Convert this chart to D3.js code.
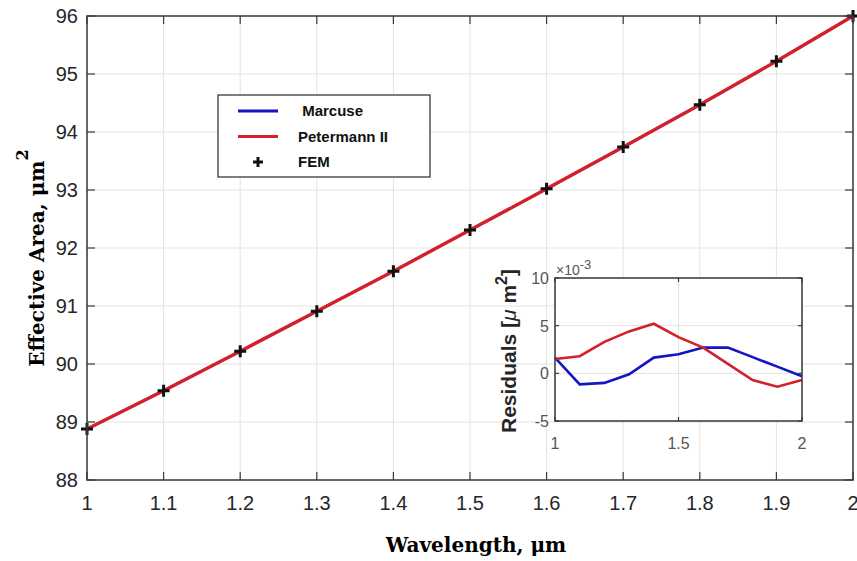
<!DOCTYPE html>
<html>
<head>
<meta charset="utf-8">
<script src="https://cdn.jsdelivr.net/npm/d3@7"></script>
<style>
  body { margin: 0; background: #fff; }
  svg { display: block; }
</style>
</head>
<body>
<div id="wrapper"></div>
<script>
// wavelengths (um) and effective area (um^2)
const wavelengths = [1.0, 1.1, 1.2, 1.3, 1.4, 1.5, 1.6, 1.7, 1.8, 1.9, 2.0];
const femArea = [88.88, 89.54, 90.22, 90.91, 91.60, 92.31, 93.02, 93.74, 94.47, 95.22, 96.00];
const marcuseArea = [88.88, 89.54, 90.22, 90.91, 91.60, 92.31, 93.02, 93.74, 94.47, 95.22, 96.00];
const petermannArea = [88.88, 89.54, 90.22, 90.91, 91.60, 92.31, 93.02, 93.74, 94.47, 95.22, 96.00];
// residuals, x1e-3 um^2
const marcuseResid = [1.65, -1.15, -1.0, -0.1, 1.65, 2.0, 2.7, 2.7, 1.7, 0.7, -0.3];
const petermannResid = [1.5, 1.8, 3.3, 4.4, 5.2, 3.8, 2.7, 1.0, -0.7, -1.4, -0.7];

const xTicks = [1, 1.1, 1.2, 1.3, 1.4, 1.5, 1.6, 1.7, 1.8, 1.9, 2];
const yTicks = [88, 89, 90, 91, 92, 93, 94, 95, 96];
const insetXTicks = [1, 1.5, 2];
const insetYTicks = [-5, 0, 5, 10];

const BLUE = "#1414c4";
const RED = "#d3202a";
const FRAME = "#3a3a3a";
const GRID = "#e3e3e3";

const width = 857, height = 561;
const svg = d3.select("#wrapper").append("svg")
  .attr("width", width).attr("height", height);

// main plot
const plot = { left: 87, right: 853, top: 16, bottom: 480 };
const xScale = d3.scaleLinear().domain([1, 2]).range([plot.left, plot.right]);
const yScale = d3.scaleLinear().domain([88, 96]).range([plot.bottom, plot.top]);

function drawGrid(g, xs, ys, xt, yt) {
  g.selectAll(".vg").data(xt).join("line")
    .attr("x1", d => xs(d)).attr("x2", d => xs(d))
    .attr("y1", ys.range()[0]).attr("y2", ys.range()[1])
    .attr("stroke", GRID).attr("stroke-width", 1);
  g.selectAll(".hg").data(yt).join("line")
    .attr("y1", d => ys(d)).attr("y2", d => ys(d))
    .attr("x1", xs.range()[0]).attr("x2", xs.range()[1])
    .attr("stroke", GRID).attr("stroke-width", 1);
}

// matlab style box with inward ticks
function drawFrame(g, xs, ys, xt, yt, tickLen) {
  const [x0, x1] = xs.range();
  const [y0, y1] = ys.range();
  g.append("rect")
    .attr("x", x0).attr("y", y1)
    .attr("width", x1 - x0).attr("height", y0 - y1)
    .attr("fill", "none").attr("stroke", FRAME).attr("stroke-width", 1.5);
  const t = g.append("g").attr("stroke", FRAME).attr("stroke-width", 1.2);
  xt.forEach(d => {
    t.append("line").attr("x1", xs(d)).attr("x2", xs(d)).attr("y1", y0).attr("y2", y0 - tickLen);
    t.append("line").attr("x1", xs(d)).attr("x2", xs(d)).attr("y1", y1).attr("y2", y1 + tickLen);
  });
  yt.forEach(d => {
    t.append("line").attr("y1", ys(d)).attr("y2", ys(d)).attr("x1", x0).attr("x2", x0 + tickLen);
    t.append("line").attr("y1", ys(d)).attr("y2", ys(d)).attr("x1", x1).attr("x2", x1 - tickLen);
  });
}

const mainG = svg.append("g");
drawGrid(mainG, xScale, yScale, xTicks, yTicks);

const line = d3.line()
  .x((d, i) => xScale(wavelengths[i]))
  .y(d => yScale(d));

// Marcuse sits under Petermann II, both nearly identical
mainG.append("path").attr("d", line(marcuseArea))
  .attr("fill", "none").attr("stroke", BLUE).attr("stroke-width", 2.4);
mainG.append("path").attr("d", line(petermannArea))
  .attr("fill", "none").attr("stroke", RED).attr("stroke-width", 3.4);

// FEM crosses
mainG.selectAll(".fem").data(femArea).join("path")
  .attr("transform", (d, i) => `translate(${xScale(wavelengths[i])},${yScale(d)})`)
  .attr("d", "M-6,0H6M0,-6V6")
  .attr("stroke", "#111").attr("stroke-width", 3);

drawFrame(mainG, xScale, yScale, xTicks, yTicks, 8);

// tick labels
const tickFont = "Liberation Sans, Arial, sans-serif";
mainG.selectAll(".xl").data(xTicks).join("text")
  .attr("x", d => xScale(d)).attr("y", 510)
  .attr("text-anchor", "middle")
  .attr("font-family", tickFont).attr("font-size", 20)
  .attr("fill", "#262626")
  .text(d => d3.format("~g")(d));
mainG.selectAll(".yl").data(yTicks).join("text")
  .attr("x", 78).attr("y", d => yScale(d) + 7)
  .attr("text-anchor", "end")
  .attr("font-family", tickFont).attr("font-size", 20)
  .attr("fill", "#262626")
  .text(d => d);

// axis titles
const titleFont = "DejaVu Serif, serif";
svg.append("text")
  .attr("x", 476).attr("y", 552)
  .attr("text-anchor", "middle")
  .attr("font-family", titleFont).attr("font-weight", "bold").attr("font-size", 20)
  .attr("fill", "#000")
  .text("Wavelength, μm");

const yTitle = svg.append("text")
  .attr("transform", "translate(44,258) rotate(-90)")
  .attr("text-anchor", "middle")
  .attr("font-family", titleFont).attr("font-weight", "bold").attr("font-size", 20)
  .attr("fill", "#000");
yTitle.append("tspan").text("Effective Area, μm");
yTitle.append("tspan").attr("dy", -16).attr("font-size", 16).text("2");

// legend
const legend = svg.append("g");
legend.append("rect")
  .attr("x", 218).attr("y", 95).attr("width", 212).attr("height", 82)
  .attr("fill", "#fff").attr("stroke", FRAME).attr("stroke-width", 1.3);
const legendItems = [
  { label: " Marcuse", color: BLUE, type: "line" },
  { label: "Petermann II", color: RED, type: "line" },
  { label: "FEM", color: "#111", type: "plus" }
];
legendItems.forEach((d, i) => {
  const y = 111 + i * 25.5;
  if (d.type === "line") {
    legend.append("line").attr("x1", 238).attr("x2", 278).attr("y1", y).attr("y2", y)
      .attr("stroke", d.color).attr("stroke-width", 3);
  } else {
    legend.append("path").attr("transform", `translate(258,${y})`)
      .attr("d", "M-5,0H5M0,-5V5").attr("stroke", d.color).attr("stroke-width", 3);
  }
  legend.append("text")
    .attr("x", 298).attr("y", y + 5)
    .attr("font-family", tickFont).attr("font-weight", "bold").attr("font-size", 15)
    .attr("fill", "#111")
    .attr("xml:space", "preserve")
    .text(d.label);
});

// inset residual plot
const inset = { left: 555, right: 802, top: 278, bottom: 421 };
const ixScale = d3.scaleLinear().domain([1, 2]).range([inset.left, inset.right]);
const iyScale = d3.scaleLinear().domain([-5, 10]).range([inset.bottom, inset.top]);

const insetG = svg.append("g");
insetG.append("rect")
  .attr("x", inset.left).attr("y", inset.top)
  .attr("width", inset.right - inset.left).attr("height", inset.bottom - inset.top)
  .attr("fill", "#fff");
drawGrid(insetG, ixScale, iyScale, insetXTicks, insetYTicks);

const iline = d3.line()
  .x((d, i) => ixScale(wavelengths[i]))
  .y(d => iyScale(d));
insetG.append("path").attr("d", iline(marcuseResid))
  .attr("fill", "none").attr("stroke", BLUE).attr("stroke-width", 2.6);
insetG.append("path").attr("d", iline(petermannResid))
  .attr("fill", "none").attr("stroke", RED).attr("stroke-width", 2.6);

drawFrame(insetG, ixScale, iyScale, insetXTicks, insetYTicks, 4);

insetG.selectAll(".ixl").data(insetXTicks).join("text")
  .attr("x", d => ixScale(d)).attr("y", 449)
  .attr("text-anchor", "middle")
  .attr("font-family", tickFont).attr("font-size", 16)
  .attr("fill", "#555")
  .text(d => d);
insetG.selectAll(".iyl").data(insetYTicks).join("text")
  .attr("x", 549).attr("y", d => iyScale(d) + 6)
  .attr("text-anchor", "end")
  .attr("font-family", tickFont).attr("font-size", 16)
  .attr("fill", "#555")
  .text(d => d);

const expo = insetG.append("text")
  .attr("x", 556).attr("y", 275)
  .attr("font-family", tickFont).attr("font-size", 14)
  .attr("fill", "#555");
expo.append("tspan").text("×10");
expo.append("tspan").attr("dy", -6).attr("font-size", 13).text("-3");

const iyTitle = insetG.append("text")
  .attr("transform", "translate(516,351) rotate(-90)")
  .attr("text-anchor", "middle")
  .attr("font-family", tickFont).attr("font-weight", "bold").attr("font-size", 21)
  .attr("fill", "#262626")
  .attr("xml:space", "preserve");
iyTitle.append("tspan").text("Residuals [");
iyTitle.append("tspan").attr("font-style", "italic").attr("font-weight", "normal").text("μ");
iyTitle.append("tspan").text(" m");
iyTitle.append("tspan").attr("dy", -9).attr("font-size", 16).text("2");
iyTitle.append("tspan").attr("dy", 9).text("]");
</script>
</body>
</html>
